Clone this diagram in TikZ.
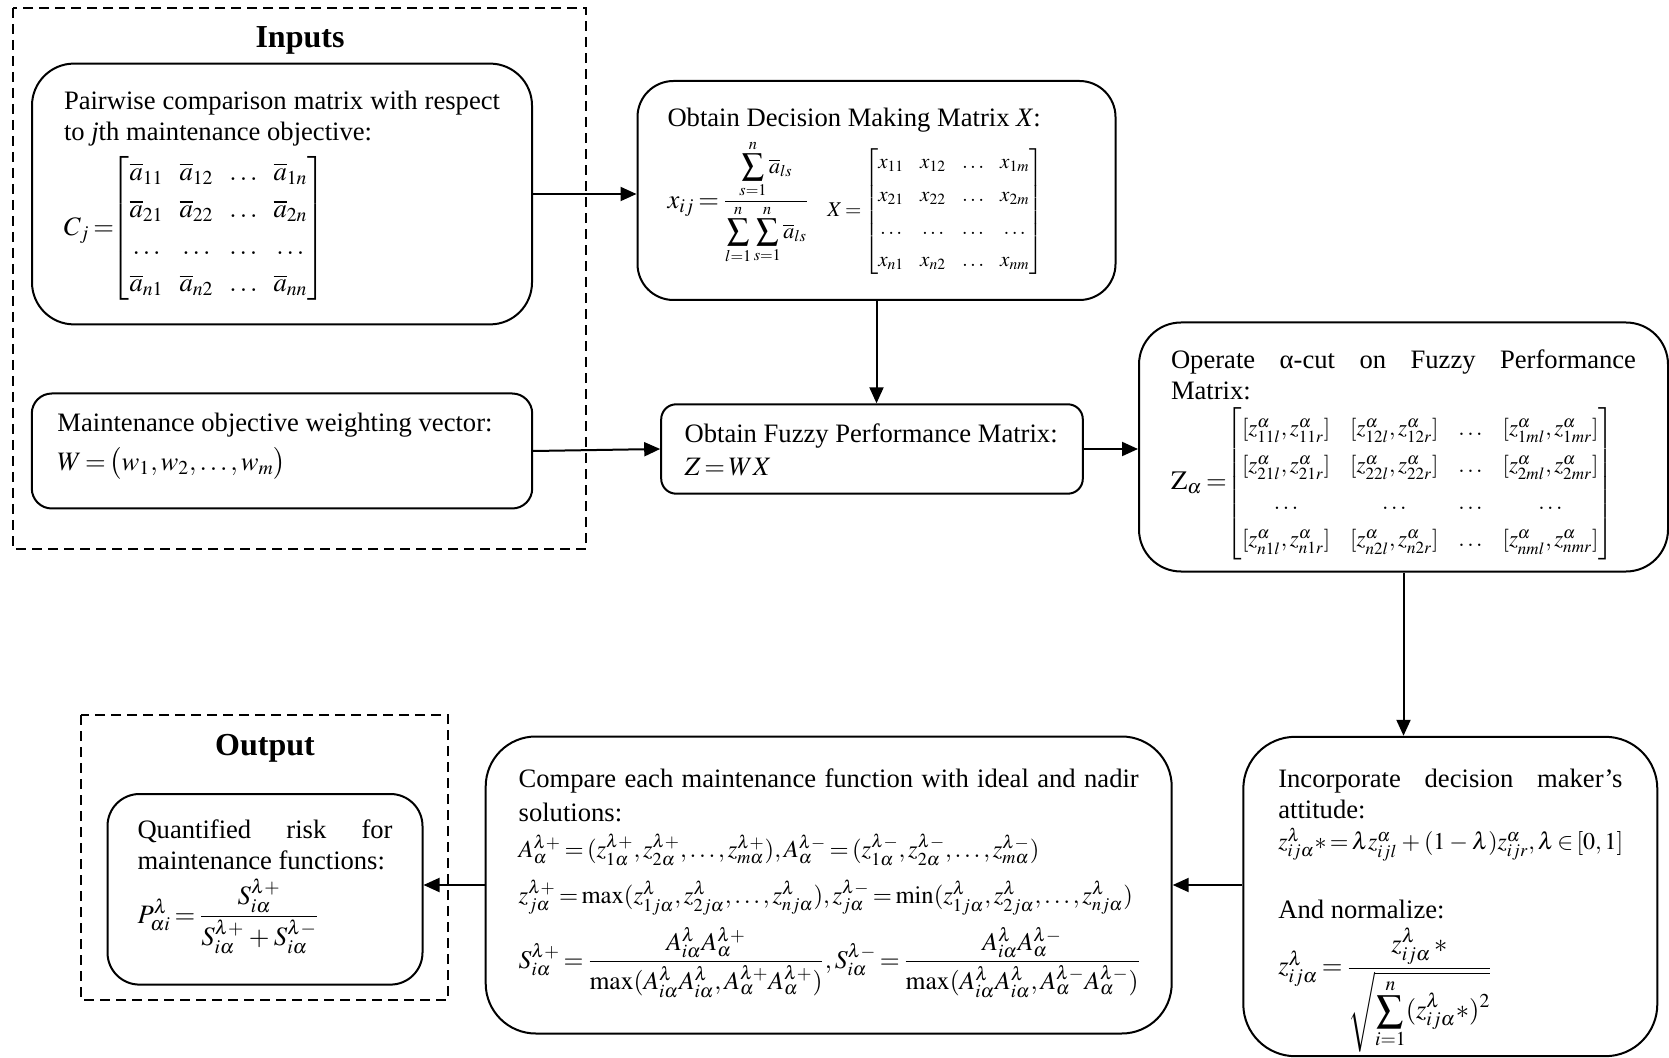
\documentclass[tikz,border=0pt]{standalone}
\usepackage{amsmath}
\usepackage{mathptmx}
\usepackage[no-math]{fontspec}
\setmainfont{Liberation Serif}
\usetikzlibrary{arrows.meta,positioning,calc}
\hyphenpenalty=10000
\exhyphenpenalty=10000
\thickmuskip=2.5mu
\medmuskip=3mu
\thinmuskip=2mu

\begin{document}
\begin{tikzpicture}[x=0.5pt, y=-0.5pt,
    stage/.style={draw, line width=1pt, align=justify, text height=10pt,
        font=\fontsize{13.3}{15.5}\selectfont},
    groupbox/.style={draw, line width=0.8pt, dash pattern=on 5pt off 3pt},
    heading/.style={font=\fontsize{16}{19}\selectfont\bfseries},
    flow/.style={line width=1pt, -{Triangle[length=8pt,width=7pt]}}]

    \useasboundingbox (0,0) rectangle (1669,1058);

    % Inputs
    \draw[groupbox] (13,8) rectangle (586,549);
    \node[heading] (inputs) at (300,40) {Inputs};

    \node[stage, rounded corners=21pt, inner xsep=16pt, inner ysep=12.9pt,
        text width=218pt, text depth=94.6pt] (pairwise) at (282,194) {%
        \def\arraystretch{1.2}\arraycolsep=4pt
        Pairwise comparison matrix with respect to \textit{j}th maintenance objective:\\[3pt]
        \mbox{$C_j=\!\!\begin{bmatrix}
            \overline{a}_{11} & \overline{a}_{12} & \ldots & \overline{a}_{1n}\\
            \overline{a}_{21} & \overline{a}_{22} & \ldots & \overline{a}_{2n}\\
            \ldots & \ldots & \ldots & \ldots\\
            \overline{a}_{n1} & \overline{a}_{n2} & \ldots & \overline{a}_{nn}
        \end{bmatrix}$}};

    \node[stage, rounded corners=10pt, inner xsep=12.8pt, inner ysep=9pt,
        text width=224.6pt, text depth=29.5pt] (weights) at (282,451) {%
        Maintenance objective weighting vector:\\[4pt]
        \mbox{$W=\bigl(w_1,w_2,\ldots,w_m\bigr)$}};

    % Steps
    \node[stage, rounded corners=18pt, inner xsep=15pt, inner ysep=12.75pt,
        text width=209pt, text depth=74pt] (decision) at (876.5,190.5) {%
        Obtain Decision Making Matrix \textit{X}:\\[3pt]
        \mbox{$x_{ij}=\dfrac{\mbox{\fontsize{11}{13}\selectfont$\displaystyle\sum_{s=1}^{n}\overline{a}_{ls}$}}{\mbox{\fontsize{11}{13}\selectfont$\displaystyle\sum_{l=1}^{n}\sum_{s=1}^{n}\overline{a}_{ls}$}}$\hspace{9pt}%
        \raisebox{-4pt}{\fontsize{10.5}{16.3}\selectfont\arraycolsep=4pt$X=\begin{bmatrix}
            x_{11} & x_{12} & \ldots & x_{1m}\\
            x_{21} & x_{22} & \ldots & x_{2m}\\
            \ldots & \ldots & \ldots & \ldots\\
            x_{n1} & x_{n2} & \ldots & x_{nm}
        \end{bmatrix}$}}};

    \node[stage, rounded corners=7.5pt, inner xsep=11.7pt, inner ysep=9pt,
        text width=187.4pt, text depth=16.7pt] (fuzzy) at (872,449) {%
        Obtain Fuzzy Performance Matrix:\\[1pt]
        \mbox{$Z=WX$}};

    \node[stage, rounded corners=21pt, inner xsep=16pt, inner ysep=13pt,
        text width=232.5pt, text depth=88.5pt] (alphacut) at (1403.5,447) {%
        Operate α-cut on Fuzzy Performance Matrix:\\[3pt]
        \mbox{$\mathrm{Z}_{\alpha}=$\fontsize{11.5}{15.5}\selectfont\def\arraystretch{1.2}$\begin{bmatrix}
            [z^{\alpha}_{11l},z^{\alpha}_{11r}] & [z^{\alpha}_{12l},z^{\alpha}_{12r}] & \ldots & [z^{\alpha}_{1ml},z^{\alpha}_{1mr}]\\
            [z^{\alpha}_{21l},z^{\alpha}_{21r}] & [z^{\alpha}_{22l},z^{\alpha}_{22r}] & \ldots & [z^{\alpha}_{2ml},z^{\alpha}_{2mr}]\\
            \ldots & \ldots & \ldots & \ldots\\
            [z^{\alpha}_{n1l},z^{\alpha}_{n1r}] & [z^{\alpha}_{n2l},z^{\alpha}_{n2r}] & \ldots & [z^{\alpha}_{nml},z^{\alpha}_{nmr}]
        \end{bmatrix}$}};

    \node[stage, rounded corners=26pt, inner xsep=17.5pt, inner ysep=15.5pt,
        text width=172pt, text depth=118.7pt] (attitude) at (1450.3,896.5) {%
        Incorporate decision maker’s attitude:\\
        \mbox{\fontsize{12}{15.5}\selectfont$z^{\lambda}_{ij\alpha}*=\lambda z^{\alpha}_{ijl}+(1-\lambda)z^{\alpha}_{ijr},\lambda\in[0,1]$}\\[19pt]
        And normalize:\\[3.5pt]
        \mbox{$z^{\lambda}_{ij\alpha}=\dfrac{z^{\lambda}_{ij\alpha}\,*}{\sqrt{\displaystyle\sum_{i=1}^{n}(z^{\lambda}_{ij\alpha}*)^2}}$}};

    \node[stage, rounded corners=25pt, inner xsep=16.5pt, inner ysep=15.6pt,
        text width=310pt, text depth=107.3pt, font=\fontsize{13.3}{17}\selectfont] (compare) at (828.7,885) {%
        Compare each maintenance function with ideal and nadir solutions:\\[1pt]
        \mbox{\fontsize{12.3}{17}\selectfont$A^{\lambda+}_{\alpha}=(z^{\lambda+}_{1\alpha},z^{\lambda+}_{2\alpha},\ldots,z^{\lambda+}_{m\alpha}),A^{\lambda-}_{\alpha}=(z^{\lambda-}_{1\alpha},z^{\lambda-}_{2\alpha},\ldots,z^{\lambda-}_{m\alpha})$}\\[6pt]
        \mbox{\fontsize{12.3}{17}\selectfont$z^{\lambda+}_{j\alpha}=\max(z^{\lambda}_{1j\alpha},z^{\lambda}_{2j\alpha},\ldots,z^{\lambda}_{nj\alpha}),z^{\lambda-}_{j\alpha}=\min(z^{\lambda}_{1j\alpha},z^{\lambda}_{2j\alpha},\ldots,z^{\lambda}_{nj\alpha})$}\\[5pt]
        \mbox{\fontsize{12.8}{17}\selectfont$S^{\lambda+}_{i\alpha}=\dfrac{A^{\lambda}_{i\alpha}A^{\lambda+}_{\alpha}}{\max(A^{\lambda}_{i\alpha}A^{\lambda}_{i\alpha},A^{\lambda+}_{\alpha}A^{\lambda+}_{\alpha})},S^{\lambda-}_{i\alpha}=\dfrac{A^{\lambda}_{i\alpha}A^{\lambda-}_{\alpha}}{\max(A^{\lambda}_{i\alpha}A^{\lambda}_{i\alpha},A^{\lambda-}_{\alpha}A^{\lambda-}_{\alpha})}$}};

    % Output
    \draw[groupbox] (81,715) rectangle (448,1000);
    \node[heading] (output) at (265,748) {Output};

    \node[stage, rounded corners=16pt, inner xsep=15pt, inner ysep=12.4pt,
        text width=127.5pt, text depth=60.5pt] (quantified) at (265,889.3) {%
        Quantified risk for maintenance functions:\\[3.5pt]
        \mbox{$P^{\lambda}_{\alpha i}=\dfrac{S^{\lambda+}_{i\alpha}}{S^{\lambda+}_{i\alpha}+S^{\lambda-}_{i\alpha}}$}};

    % Flow
    \draw[flow] (pairwise.east) -- (pairwise.east -| decision.west);
    \draw[flow] (weights.east) -- (fuzzy.west);
    \draw[flow] (decision.south) -- (decision.south |- fuzzy.north);
    \draw[flow] (fuzzy.east) -- (fuzzy.east -| alphacut.west);
    \draw[flow] (alphacut.south) -- (alphacut.south |- attitude.north);
    \draw[flow] (attitude.west |- compare.east) -- (compare.east);
    \draw[flow] (compare.west) -- (compare.west -| quantified.east);
\end{tikzpicture}
\end{document}
